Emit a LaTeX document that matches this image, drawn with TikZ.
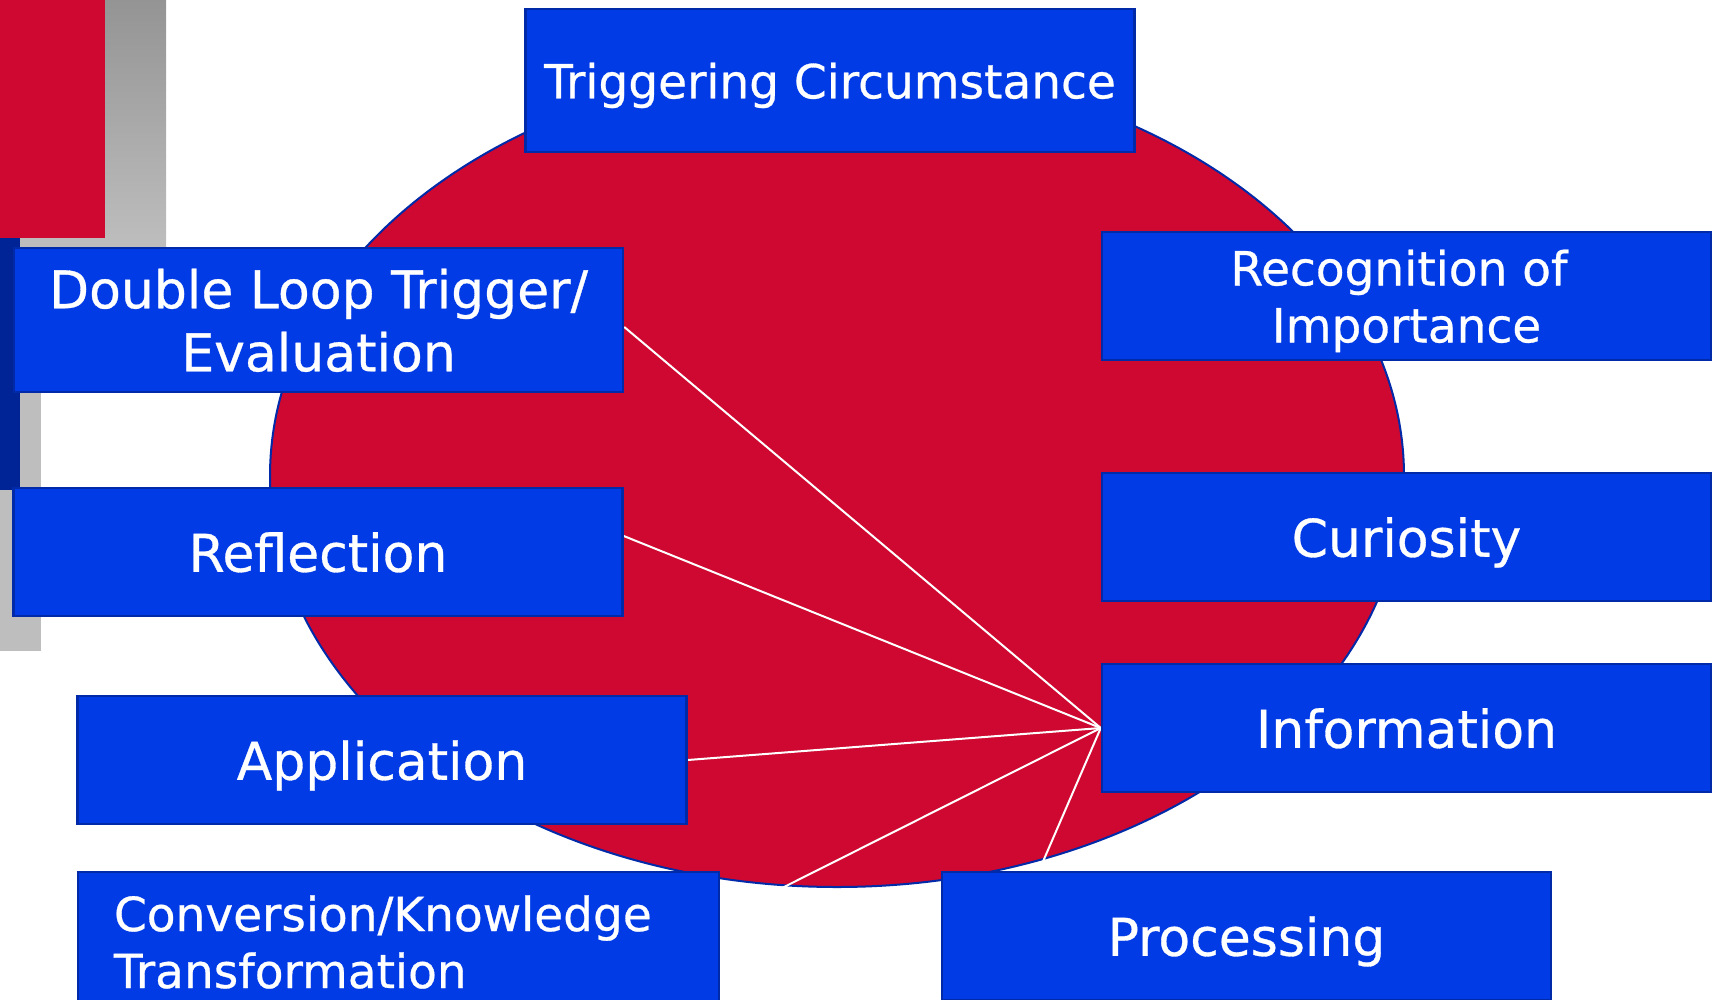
\documentclass[tikz,border=0pt]{standalone}
\usepackage{fontspec}
\setmainfont{DejaVu Sans}
\newfontfamily\boxfont{DejaVu Sans}[FakeBold=0.6]
\definecolor{slidered}{RGB}{206,8,48}
\definecolor{boxblue}{RGB}{0,59,230}
\definecolor{edgeblue}{RGB}{0,42,168}
\definecolor{stripblue}{RGB}{0,36,150}
\definecolor{greytop}{RGB}{148,148,148}
\definecolor{greybot}{RGB}{190,190,190}
\pgfdeclarelayer{background}
\pgfsetlayers{background,main}
\tikzset{
  box/.style={draw=edgeblue, line width=2.5pt, fill=boxblue, text=white,
    rectangle, inner sep=0pt, align=center,
    minimum width=609pt, minimum height=128pt},
  flat/.style={text depth=0pt},
  bigtext/.style={font=\boxfont\fontsize{52}{63}\selectfont},
  smalltext/.style={font=\boxfont\fontsize{47}{57}\selectfont},
  link/.style={draw=white, line width=2pt},
  hub/.style={draw=edgeblue, line width=2pt, fill=slidered}
}
\begin{document}
\begin{tikzpicture}[x=1pt, y=-1pt]
\useasboundingbox (0,0) rectangle (1716,999);

% boxes
\node[box, flat, smalltext, minimum height=143pt] (trig) at (830,80.5) {Triggering Circumstance};
\node[box, flat, bigtext, minimum height=144pt] (dl) at (318.5,320) {Double Loop Trigger/\\Evaluation};
\node[box, flat, bigtext] (refl) at (318,552) {Reflection};
\node[box, flat, bigtext] (app) at (382,760) {Application};
\node[box, smalltext, minimum width=641pt, minimum height=140pt, text width=569pt, align=left] (conv) at (398.5,942) {Conversion/Knowledge\\Transformation};
\node[box, flat, smalltext] (rec) at (1406.5,296) {Recognition of\hspace*{0.32em}\\Importance};
\node[box, flat, bigtext] (cur) at (1406.5,537) {Curiosity};
\node[box, flat, bigtext] (info) at (1406.5,728) {Information};
\node[box, flat, bigtext] (proc) at (1246.5,936) {Processing};

\begin{pgfonlayer}{background}
  % corner decoration
  \shade[top color=greytop, bottom color=greybot] (0,0) rectangle (166,248);
  \fill[greybot] (0,248) rectangle (41,651);
  \fill[slidered] (0,0) rectangle (105,238);
  \fill[stripblue] (0,238) rectangle (20,490);
  % central disc
  \path[hub] (837,476) ellipse [x radius=567pt, y radius=411pt];
  % spokes from Information, under the boxes
  \draw[link] (info.west) -- ([yshift=-7pt]dl.east);
  \draw[link] (info.west) -- ([yshift=16pt]refl.east);
  \draw[link] (info.west) -- (app.east);
  \draw[link] (info.west) -- ([yshift=23pt]conv.east);
  \draw[link] (info.west) -- ([xshift=-207.5pt]proc.north);
\end{pgfonlayer}
\end{tikzpicture}
\end{document}
